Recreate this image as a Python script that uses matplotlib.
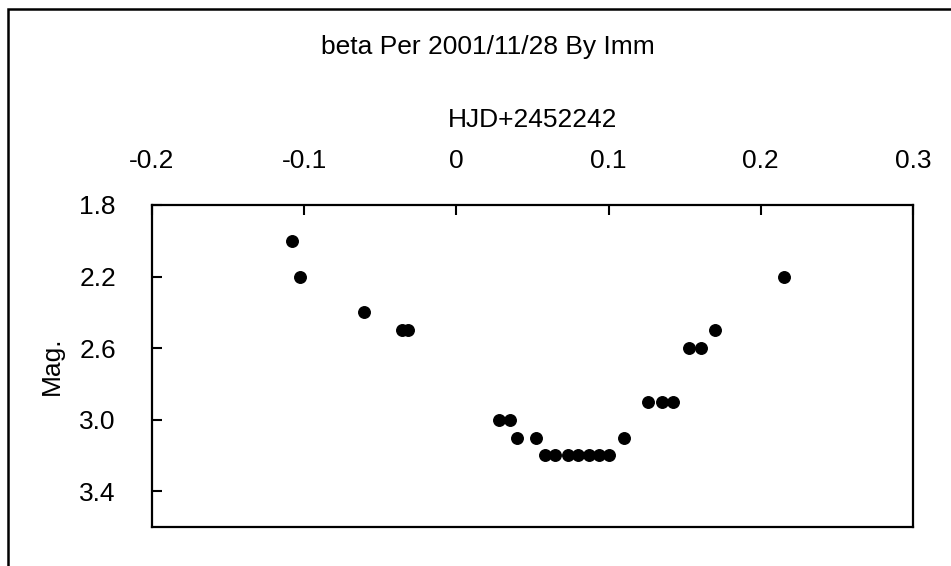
import matplotlib
matplotlib.use("Agg")
import matplotlib.pyplot as plt
from matplotlib.patches import Rectangle

plt.rcParams['font.family'] = ['Liberation Sans', 'DejaVu Sans']

# light curve (HJD - 2452242, magnitude)
hjd = [-0.108, -0.103, -0.061, -0.036, -0.032, 0.028, 0.035, 0.040, 0.052,
       0.058, 0.065, 0.073, 0.080, 0.087, 0.094, 0.100, 0.110,
       0.126, 0.135, 0.142, 0.153, 0.161, 0.170, 0.215]
mag = [2.0, 2.2, 2.4, 2.5, 2.5, 3.0, 3.0, 3.1, 3.1,
       3.2, 3.2, 3.2, 3.2, 3.2, 3.2, 3.2, 3.1,
       2.9, 2.9, 2.9, 2.6, 2.6, 2.5, 2.2]

x_ticks = [-0.2, -0.1, 0, 0.1, 0.2, 0.3]
x_labels = ['-0.2', '-0.1', '0', '0.1', '0.2', '0.3']
y_ticks = [1.8, 2.2, 2.6, 3.0, 3.4]
y_labels = ['1.8', '2.2', '2.6', '3.0', '3.4']

W, H = 951, 566
fig = plt.figure(figsize=(W / 100, H / 100), dpi=100)
ax = fig.add_axes([152 / W, 1 - 527 / H, (913 - 152) / W, (527 - 205) / H])

ax.plot(hjd, mag, 'o', color='black', markersize=8.3, linestyle='none')

ax.set_xlim(-0.2, 0.3)
ax.set_ylim(3.6, 1.8)
ax.set_xticks(x_ticks)
ax.set_xticklabels(x_labels)
ax.set_yticks(y_ticks)
ax.set_yticklabels(y_labels)

ax.xaxis.tick_top()
ax.xaxis.set_label_position('top')
ax.tick_params(axis='x', direction='in', length=7, width=1.5, pad=23,
               labelsize=19, top=True, bottom=False)
ax.tick_params(axis='y', direction='in', length=7, width=1.5, pad=26,
               labelsize=19)
for side in ax.spines.values():
    side.set_linewidth(1.6)
    side.set_color('black')

ax.set_xlabel('HJD+2452242', fontsize=19, labelpad=16)
ax.set_ylabel('Mag.', fontsize=19, labelpad=11)

fig.text(487.5 / W, 1 - 47 / H, 'beta Per 2001/11/28 By Imm',
         ha='center', va='center', fontsize=19)

# chart area border (right and bottom edges fall outside the image)
fig.patches.append(Rectangle((8 / W, -0.1), 1.2, 1 - 9 / H + 0.1,
                             transform=fig.transFigure, fill=False,
                             edgecolor='black', linewidth=1.8))

fig.savefig('out.png', dpi=100)
